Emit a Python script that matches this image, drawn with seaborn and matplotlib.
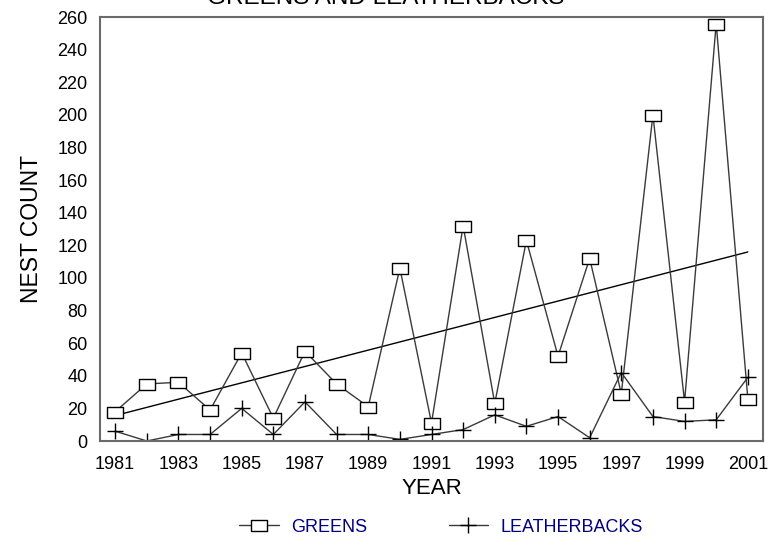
import numpy as np
import pandas as pd
import matplotlib
matplotlib.use("Agg")
import matplotlib.pyplot as plt
from matplotlib.ticker import MultipleLocator, FixedLocator
import seaborn as sns

years = list(range(1981, 2002))
greens = [18, 35, 36, 19, 54, 14, 55, 35, 21, 106, 11, 132, 23, 123, 52, 112, 29, 200, 24, 256, 26]
leatherbacks = [6, 0, 4, 4, 20, 4, 24, 4, 4, 1, 4, 7, 16, 9, 15, 2, 42, 15, 12, 13, 39]
x_tick_labels = [str(y) for y in range(1981, 2002, 2)]

sns.set_theme(style="white")
plt.rcParams["font.family"] = ["Liberation Sans", "DejaVu Sans"]

df = pd.DataFrame({"year": years, "greens": greens, "leatherbacks": leatherbacks})

fig = plt.figure(figsize=(7.72, 5.47), dpi=100)
ax = fig.add_axes([100 / 772, 1 - 441 / 547, 663 / 772, 424 / 547])

# wide, flat box like the original marker
rect = [(-1, -0.72), (1, -0.72), (1, 0.72), (-1, 0.72), (-1, -0.72)]

# trend line = least squares fit of the greens counts
sns.regplot(data=df, x="year", y="greens", scatter=False, ci=None, truncate=True,
            line_kws=dict(color="black", lw=1), ax=ax)
sns.lineplot(data=df, x="year", y="greens", color="#3a3a3a", lw=1,
             marker=rect, markersize=11, markerfacecolor="white",
             markeredgecolor="black", markeredgewidth=1, label="GREENS", ax=ax)
sns.lineplot(data=df, x="year", y="leatherbacks", color="#3a3a3a", lw=1,
             marker="+", markersize=12, markeredgecolor="black",
             markeredgewidth=1, label="LEATHERBACKS", ax=ax)

ax.set_xlim(1980.52, 2001.48)
ax.set_ylim(0, 260)
ax.xaxis.set_major_locator(FixedLocator(list(range(1981, 2002, 2))))
ax.xaxis.set_minor_locator(FixedLocator(list(range(1982, 2001, 2))))
ax.set_xticklabels(x_tick_labels)
ax.yaxis.set_major_locator(MultipleLocator(20))
ax.yaxis.set_minor_locator(MultipleLocator(10))

ax.tick_params(axis="both", which="major", direction="in", length=8, width=1,
               color="#333333", labelsize=13, labelcolor="black")
ax.tick_params(axis="x", which="minor", direction="in", length=8, width=1, color="#333333")
ax.tick_params(axis="y", which="minor", direction="in", length=4, width=1, color="#333333")
ax.tick_params(axis="y", which="major", pad=9)
ax.tick_params(axis="x", which="major", pad=10.5)

for s in ax.spines.values():
    s.set_color("#6a6a6a")
    s.set_linewidth(1.5)

ax.set_xlabel("YEAR", fontsize=16, color="black", labelpad=4)
ax.set_ylabel("NEST COUNT", fontsize=16.5, color="black", labelpad=10)

fig.text(0.5, 1 - 4 / 547, "GREENS AND LEATHERBACKS", ha="center", va="baseline",
         fontsize=17.5, color="black")

handles, labels = ax.get_legend_handles_labels()
ax.get_legend().remove()
leg = fig.legend(handles, labels, loc="center", bbox_to_anchor=(441 / 772, 1 - 527 / 547),
                 ncol=2, frameon=False, fontsize=13, handlelength=2.2,
                 handletextpad=0.67, columnspacing=4.5)
for t in leg.get_texts():
    t.set_color("#000080")

fig.savefig("out.png", dpi=100)
